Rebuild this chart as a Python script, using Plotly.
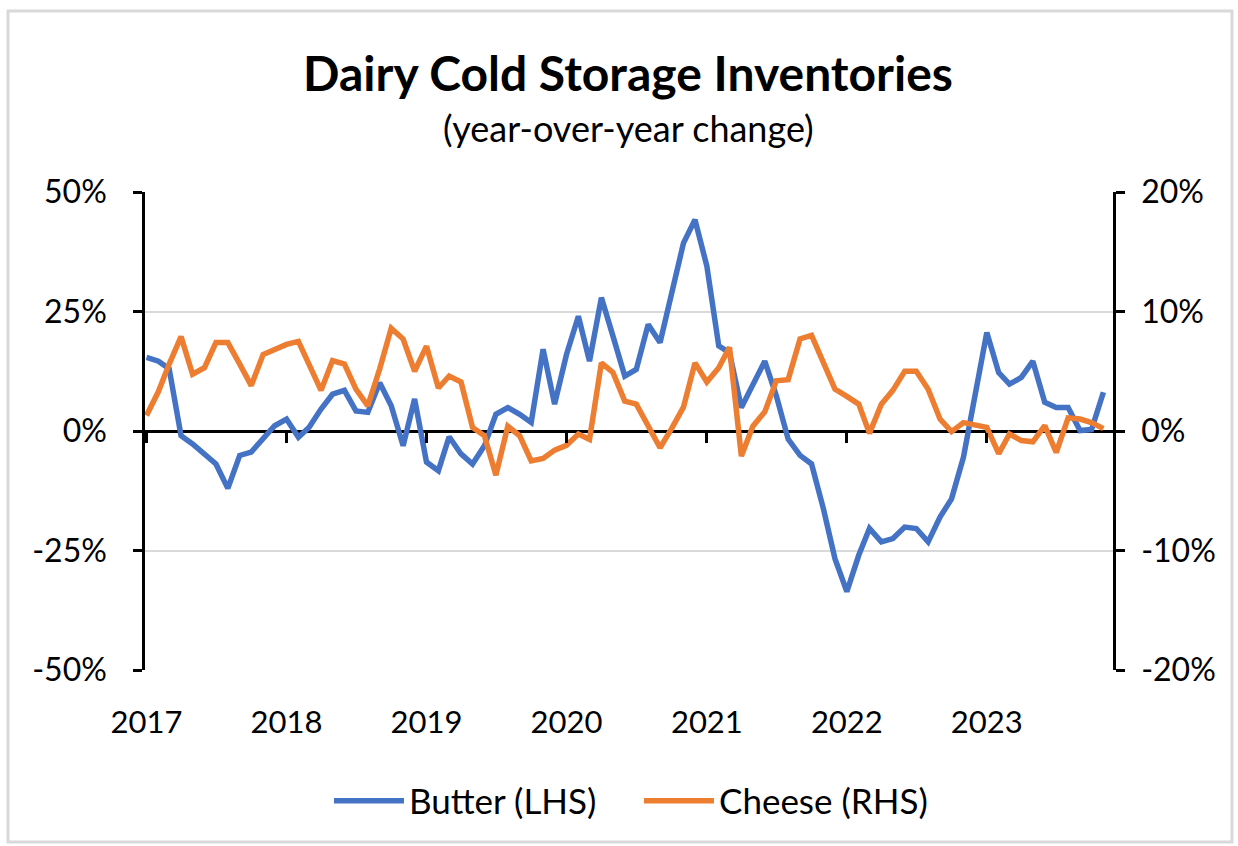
import pandas as pd
import plotly.graph_objects as go

dates = pd.date_range("2017-01-01", periods=83, freq="MS")

butter = [15.4, 14.6, 13.0, -1.0, -2.7, -4.8, -6.9, -12.0, -5.1, -4.4, -1.7, 1.1,
          2.5, -1.3, 0.8, 4.6, 7.7, 8.5, 4.2, 3.9, 10.1, 5.3, -3.1, 6.7,
          -6.5, -8.3, -1.2, -4.8, -6.9, -3.1, 3.5, 4.9, 3.5, 1.8, 17.1, 5.6,
          16.0, 24.0, 14.6, 27.9, 19.9, 11.5, 12.9, 22.3, 18.5, 28.2, 39.3, 44.2,
          34.5, 17.8, 16.4, 4.9, 9.8, 14.6, 7.4, -1.7, -5.1, -6.9, -16.3, -26.7,
          -33.6, -26.0, -20.4, -23.2, -22.5, -20.1, -20.4, -23.2, -18.0, -14.2, -5.5, 8.0,
          20.6, 12.2, 9.8, 11.2, 14.6, 6.0, 4.9, 4.9, 0.1, 0.3, 8.1]

cheese = [1.3, 3.3, 5.6, 7.9, 4.75, 5.3, 7.4, 7.4, 5.6, 3.8, 6.4, 6.8,
          7.25, 7.5, 5.6, 3.4, 5.9, 5.6, 3.5, 2.1, 5.2, 8.6, 7.7, 5.0,
          7.1, 3.6, 4.6, 4.1, 0.3, -0.4, -3.7, 0.4, -0.4, -2.5, -2.3, -1.6,
          -1.2, -0.25, -0.7, 5.7, 4.9, 2.5, 2.25, 0.45, -1.4, 0.2, 2.0, 5.7,
          4.1, 5.3, 7.0, -2.1, 0.4, 1.6, 4.2, 4.3, 7.7, 8.0, 5.6, 3.5,
          2.9, 2.25, -0.2, 2.25, 3.4, 5.0, 5.0, 3.5, 1.0, -0.05, 0.7, 0.45,
          0.3, -1.9, -0.25, -0.8, -0.9, 0.45, -1.8, 1.1, 1.0, 0.7, 0.2]

year_ticks = pd.date_range("2017-01-01", periods=7, freq="YS")
year_labels = [str(d.year) for d in year_ticks]

left_ticks = [-50, -25, 0, 25, 50]
left_labels = ["-50%", "-25%", "0%", "25%", "50%"]
right_ticks = [-20, -10, 0, 10, 20]
right_labels = ["-20%", "-10%", "0%", "10%", "20%"]

BLUE = "#4472C4"
ORANGE = "#ED7D31"
FONT = "Lato"
xrange_ = ["2016-12-28", "2023-11-26"]

fig = go.Figure()
fig.add_trace(go.Scatter(x=dates, y=butter, name="Butter (LHS)", mode="lines",
                         line=dict(color=BLUE, width=5.5), yaxis="y"))
fig.add_trace(go.Scatter(x=dates, y=cheese, name="Cheese (RHS)", mode="lines",
                         line=dict(color=ORANGE, width=5.5), yaxis="y2"))

# helper axis only for the year tick marks on the zero line
fig.add_trace(go.Scatter(x=[dates[0]], y=[None], xaxis="x2", yaxis="y",
                         showlegend=False, hoverinfo="skip"))

L, R, T, B = 145, 125, 192, 176
W, H = 1238, 846
ph = H - T - B
pw = W - L - R
zero_pos = (670 - 432) / ph

fig.update_layout(
    width=W, height=H,
    margin=dict(l=L, r=R, t=T, b=B, pad=0),
    paper_bgcolor="white", plot_bgcolor="white",
    font=dict(family=FONT, color="#000000", size=30),
    title=dict(text="<b>Dairy Cold Storage Inventories</b>", x=(628 - L) / pw, xref="paper",
               xanchor="center", y=1 - 74 / H, yanchor="middle",
               font=dict(family=FONT, size=48, color="#000000")),
    xaxis=dict(type="date", range=xrange_, tickvals=year_ticks, ticktext=year_labels,
               showgrid=False, showline=False, ticks="", zeroline=False,
               tickfont=dict(size=31), ticklabelstandoff=31),
    xaxis2=dict(type="date", range=xrange_, overlaying="x", anchor="free",
                position=zero_pos, tickvals=year_ticks, showticklabels=False,
                ticks="outside", ticklen=10, tickwidth=2.5, tickcolor="#000000",
                showline=False, showgrid=False, zeroline=False),
    yaxis=dict(range=[-50, 50], tickvals=left_ticks, ticktext=left_labels,
               showgrid=True, gridcolor="#d9d9d9", gridwidth=2,
               zeroline=True, zerolinecolor="#000000", zerolinewidth=2.5,
               showline=True, linecolor="#000000", linewidth=2.5,
               ticks="outside", ticklen=9, tickwidth=2.5, tickcolor="#000000",
               tickfont=dict(size=32), ticklabelstandoff=20),
    yaxis2=dict(range=[-20, 20], tickvals=right_ticks, ticktext=right_labels,
                overlaying="y", side="right", showgrid=False, zeroline=False,
                showline=True, linecolor="#000000", linewidth=2.5,
                ticks="outside", ticklen=9, tickwidth=2.5, tickcolor="#000000",
                tickfont=dict(size=32), ticklabelstandoff=10),
    legend=dict(orientation="h", x=(639 - L) / pw, xanchor="center", y=(670 - 801) / ph,
                yanchor="middle", font=dict(size=35), itemwidth=70,
                entrywidth=225, entrywidthmode="pixels",
                bgcolor="rgba(0,0,0,0)"),
    showlegend=True,
)

fig.add_annotation(text="(year-over-year change)", x=(628 - L) / pw, xref="paper", xanchor="center",
                   y=(670 - 128) / ph, yref="paper", yanchor="middle", showarrow=False,
                   font=dict(family=FONT, size=36, color="#000000"))

# outer chart border
fig.add_shape(type="rect", xref="paper", yref="paper",
              x0=(8 - L) / pw, x1=(1232 - L) / pw,
              y0=(670 - 842) / ph, y1=(670 - 11) / ph,
              line=dict(color="#d9d9d9", width=3), layer="below")

fig.write_html("out.html")
